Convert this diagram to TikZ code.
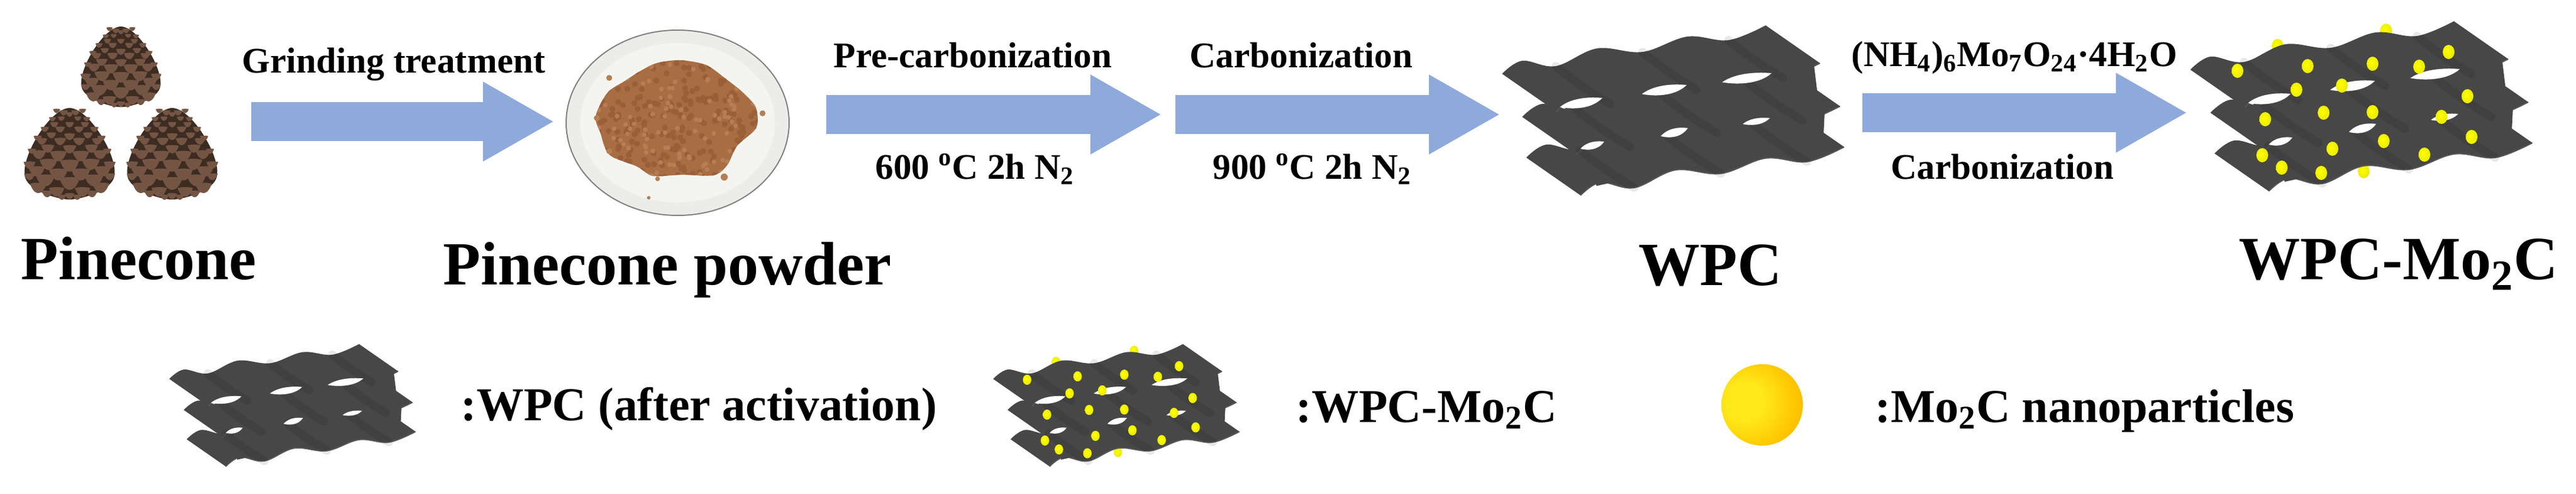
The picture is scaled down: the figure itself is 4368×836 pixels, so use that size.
\documentclass[tikz,border=0pt]{standalone}
\usepackage{fontspec}
\setmainfont{Liberation Serif}
\usetikzlibrary{arrows.meta}

\definecolor{arrowblue}{HTML}{8EAADB}
\definecolor{sheetgray}{HTML}{474747}
\definecolor{sheetseam}{HTML}{565656}
\definecolor{conedark}{HTML}{3D2C22}
\definecolor{conescale}{HTML}{745544}
\definecolor{platerim}{HTML}{ECECE9}
\definecolor{plateface}{HTML}{F4F4F0}
\definecolor{powder}{HTML}{A86D43}
\definecolor{powderdark}{HTML}{985F38}
\definecolor{powderlight}{HTML}{B67E54}
\definecolor{ballcore}{HTML}{FFE81A}
\definecolor{ballmid}{HTML}{FFC800}
\definecolor{ballrim}{HTML}{EFB000}
\definecolor{ballshade}{HTML}{C89200}
\definecolor{balldark}{HTML}{6A4E00}

\pgfdeclareradialshading{goldball}{\pgfpoint{-12bp}{2bp}}{
  color(0bp)=(ballcore); color(12bp)=(ballcore); color(28bp)=(ballmid);
  color(42bp)=(ballrim); color(51bp)=(ballshade); color(57bp)=(balldark);
  color(63bp)=(black); color(100bp)=(black)}
\pgfdeclareradialshading{yellowball}{\pgfpoint{-6bp}{5bp}}{
  color(0bp)=(yellow); color(28bp)=(yellow!92!black);
  color(48bp)=(yellow!65!black); color(70bp)=(yellow!40!black); color(100bp)=(yellow!40!black)}

\newcommand{\sheettop}{(0,0) (34,-22) (91,-13) (161,-43) (238,-37) (314,-63) (384,-57) (447,-82)}
\newcommand{\sheetbottom}{(539,-18) (476,7) (406,1) (330,27) (253,21) (183,51) (126,42) (92,64)}

% one wavy layer of carbon
\newcommand{\sheetlayer}[2]{
  \begin{scope}[shift={(#1,#2)}]
    \fill[sheetgray] plot[smooth,tension=.6] coordinates {\sheettop}
      -- plot[smooth,tension=.6] coordinates {\sheetbottom} -- cycle;
    \draw[sheetseam,line width=.02cm] plot[smooth,tension=.6] coordinates {\sheetbottom};
  \end{scope}
}
\newcommand{\sheetstack}{
  \sheetlayer{41}{142}
  \sheetlayer{34}{73}
  \sheetlayer{0}{0}
  % the layers touch, apart from the gaps below
  \fill[sheetgray] (100,30) -- (528,-22) -- (535,35) -- (120,110) -- cycle;
  \fill[sheetgray] (134,100) -- (548,45) -- (545,105) -- (160,190) -- cycle;
  \foreach \fx/\fy in {91/-13,238/-37,384/-57,125/60,272/36,418/16,132/129,279/105,425/85}
    \draw[black,opacity=.09,line width=.14cm,line cap=round,shift={(\fx,\fy)}]
      (0,0) .. controls (30,25) and (60,45) .. (92,64);
  \foreach \hx/\hy/\hw/\hh in {134/50/36/9,275/28/38/9,415/8/42/9,153/122/20/7,292/100/23/8,431/81/23/6}
    \fill[white,shift={(\hx,\hy)}] (-\hw,\hh*.7) .. controls (-\hw*.4,-\hh*1.2) and (\hw*.5,-\hh*1.2) .. (\hw,-\hh)
      .. controls (\hw*.5,\hh*1.1) and (-\hw*.4,\hh*1.2) .. cycle;
}
\newcommand{\moball}[2]{\shade[shading=yellowball] (#1,#2) ellipse [x radius=10,y radius=12];}
\newcommand{\conescalepath}{
  (-1,-.35) .. controls (-.75,.45) and (-.35,.8) .. (0,.8)
  .. controls (.35,.8) and (.75,.45) .. (1,-.35)
  .. controls (.4,-.5) and (-.4,-.5) .. cycle}

\tikzset{
  titletext/.style={anchor=base west,inner sep=0pt,font=\bfseries\fontsize{29.6pt}{32pt}\selectfont},
  steptext/.style={anchor=base west,inner sep=0pt,font=\bfseries\fontsize{17.4pt}{20pt}\selectfont},
  legendtext/.style={anchor=base west,inner sep=0pt,font=\bfseries\fontsize{22.7pt}{24pt}\selectfont},
  flowarrow/.style={draw=arrowblue,line width=.66cm,-{Triangle[length=1.21cm,width=1.26cm]}},
  wpcsheet/.pic={\sheetstack},
  wpcloaded/.pic={
    % particles behind the sheets
    \foreach \bx/\by in {332/-66,148/-40,294/172}
      {\moball{\bx}{\by}}
    \sheetstack
    \foreach \bx/\by in {257/27,426/80,80/2,199/-6,309/-10,388/-5,438/-30,180/34,127/84,226/73,309/72,
        470/45,477/114,328/121,241/134,122/145,397/144,155/166,222/175}
      {\moball{\bx}{\by}}
  },
  pinecone/.pic={
    \fill[conedark] (0,0) .. controls (32,0) and (82,80) .. (76,115)
      .. controls (72,140) and (20,155) .. (0,155)
      .. controls (-20,155) and (-72,140) .. (-76,115)
      .. controls (-82,80) and (-32,0) .. cycle;
    \foreach \cy/\cx/\cs in {4/22/6,7/10/7,10/0/6,17/14/6,18/29/6,27/0/7,27/26/7,35/16/8,35/42/7,
        45/31/8,47/0/9,50/54/7,55/16/10,55/47/9,67/37/11,68/0/11,72/64/7,77/52/12,79/19/14,
        93/36/15,95/0/16,95/68/10,105/56/14,110/19/16,115/68/9,120/41/16,125/0/17,
        133/53/14,140/22/13,144/38/9,150/13/7,148/0/8}
      {
        \fill[conescale,shift={(\cx,\cy)},scale=\cs] \conescalepath;
        \fill[conescale,shift={(-\cx,\cy)},scale=\cs] \conescalepath;
      }
  }
}

\begin{document}
\begin{tikzpicture}[x=.01cm,y=-.01cm]
  \useasboundingbox (0,0) rectangle (4368,836);

  % pinecones
  \pic at (205,45) [scale=.88] {pinecone};
  \pic at (118,183) {pinecone};
  \pic at (292,183) {pinecone};

  % plate with powder
  \fill[platerim] (1149,208) ellipse [x radius=189,y radius=157];
  \fill[plateface] (1149,208) ellipse [x radius=165,y radius=135];
  \draw[gray,line width=.02cm] (1149,208) ellipse [x radius=189,y radius=157];
  \begin{scope}
    \clip plot[smooth cycle,tension=.5] coordinates {(1010,197) (1030,157) (1060,137) (1083,122)
      (1113,107) (1153,102) (1197,110) (1230,133) (1260,157) (1282,183) (1282,217) (1250,247)
      (1233,280) (1210,297) (1157,296) (1107,298) (1080,282) (1033,262) (1018,225)};
    \fill[powder] (1000,90) rectangle (1300,310);
    \pgfmathsetseed{41}
    \foreach \k in {1,...,260}
      \fill[powderdark] ({1150+140*rand},{200+105*rand}) circle [radius=5];
    \foreach \k in {1,...,130}
      \fill[powderlight] ({1150+140*rand},{200+105*rand}) circle [radius=4];
  \end{scope}
  \foreach \px/\py/\pr in {1033/132/5,1293/192/5,1228/300/6,1100/335/3,1115/303/4,1012/200/5,1033/256/5}
    \fill[powderlight] (\px,\py) circle [radius=\pr];

  % sheets
  \pic at (2547,125) {wpcsheet};
  \pic at (3714,118) {wpcloaded};
  \pic at (287,642) [scale=.72] {wpcsheet};
  \pic at (1684,642) [scale=.72] {wpcloaded};
  \shade[shading=goldball] (2988,686) circle [radius=69];

  % process arrows
  \coordinate (grindstart) at (426,206);
  \coordinate (grindend) at (940,206);
  \coordinate (prestart) at (1401,194);
  \coordinate (preend) at (1970,194);
  \coordinate (carbstart) at (1993,194);
  \coordinate (carbend) at (2544,194);
  \coordinate (mostart) at (3158,191);
  \coordinate (moend) at (3709,191);
  \draw[flowarrow] (grindstart) -- (grindend);
  \draw[flowarrow] (prestart) -- (preend);
  \draw[flowarrow] (carbstart) -- (carbend);
  \draw[flowarrow] (mostart) -- (moend);

  % labels
  \node[steptext] (grindlabel) at (410,123) {Grinding treatment};
  \node[steptext] (prelabel) at (1413,114) {Pre-carbonization};
  \node[steptext] (carblabel) at (2017,114) {Carbonization};
  \node[steptext] (precond) at (1484,303) {600 \textsuperscript{o}C 2h N\textsubscript{2}};
  \node[steptext] (carbcond) at (2056,303) {900 \textsuperscript{o}C 2h N\textsubscript{2}};
  \node[steptext] (salt) at (3139,112) {(NH\textsubscript{4})\textsubscript{6}Mo\textsubscript{7}O\textsubscript{24}·4H\textsubscript{2}O};
  \node[steptext] (mocarb) at (3206,303) {Carbonization};

  \node[titletext] (conetitle) at (35,473) {Pinecone};
  \node[titletext] (powdertitle) at (751,482) {Pinecone powder};
  \node[titletext] (wpctitle) at (2778,483) {WPC};
  \node[titletext] (motitle) at (3796,473) {WPC-Mo\textsubscript{2}C};

  \node[legendtext] (wpclegend) at (781,712) {:WPC (after activation)};
  \node[legendtext] (molegend) at (2197,715) {:WPC-Mo\textsubscript{2}C};
  \node[legendtext] (balllegend) at (3179,715) {:Mo\textsubscript{2}C nanoparticles};
\end{tikzpicture}
\end{document}
